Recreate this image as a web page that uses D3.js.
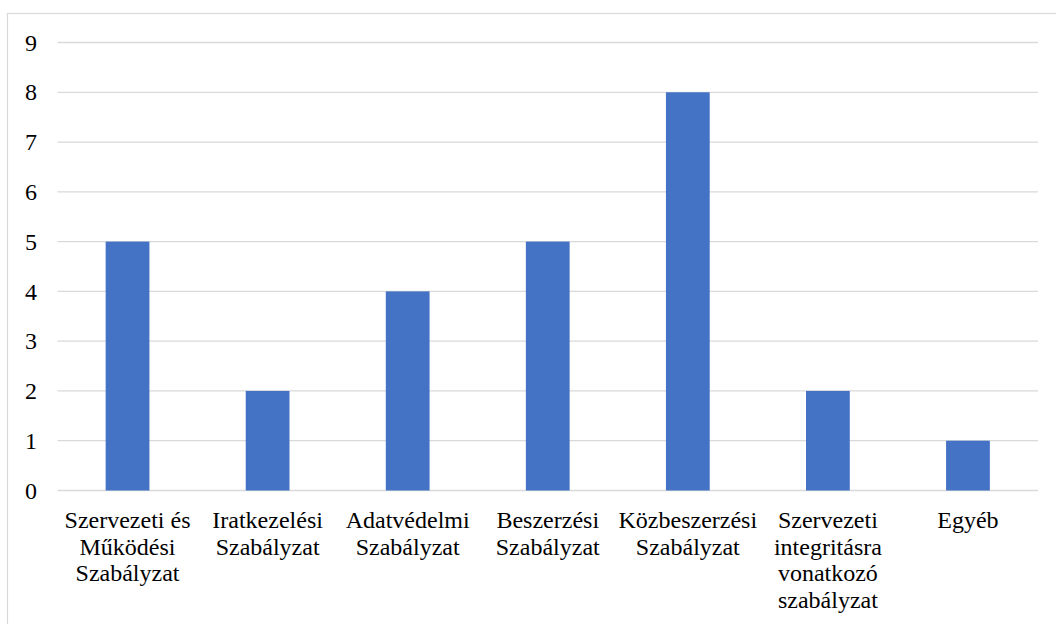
<!DOCTYPE html>
<html>
<head>
<meta charset="utf-8">
<script src="https://cdn.jsdelivr.net/npm/d3@7"></script>
</head>
<body style="margin:0;background:#fff">
<svg id="s" width="1056" height="624" style="display:block"></svg>
<script>
// Number of regulations by type
const categories = [
  "Szervezeti és Működési Szabályzat",
  "Iratkezelési Szabályzat",
  "Adatvédelmi Szabályzat",
  "Beszerzési Szabályzat",
  "Közbeszerzési Szabályzat",
  "Szervezeti integritásra vonatkozó szabályzat",
  "Egyéb"
];
const values = [5, 2, 4, 5, 8, 2, 1];
const yTicks = [0, 1, 2, 3, 4, 5, 6, 7, 8, 9];

const FONT = '"Times New Roman", Tinos, "Liberation Serif", serif';
const svg = d3.select("#s");
const W = 1056, H = 624;
const plot = { left: 57.5, right: 1038, top: 42.5, bottom: 490.5 };

// outer chart frame
svg.append("rect")
  .attr("x", 7.5).attr("y", 13.5)
  .attr("width", W + 10).attr("height", H + 10)
  .attr("fill", "#fff").attr("stroke", "#d9d9d9").attr("stroke-width", 1.2);

const x = d3.scaleBand()
  .domain(categories)
  .range([plot.left, plot.right])
  .paddingInner(0.6875)
  .paddingOuter(0.34375);

const y = d3.scaleLinear()
  .domain([0, 9])
  .range([plot.bottom, plot.top]);

// horizontal gridlines (including the baseline)
svg.append("g")
  .selectAll("line")
  .data(yTicks)
  .join("line")
  .attr("x1", plot.left).attr("x2", plot.right)
  .attr("y1", d => y(d)).attr("y2", d => y(d))
  .attr("stroke", "#d9d9d9").attr("stroke-width", 1.3);

// y axis labels, positioned by the linear scale
svg.append("g")
  .selectAll("text")
  .data(yTicks)
  .join("text")
  .attr("x", plot.left - 20.5)
  .attr("y", d => y(d))
  .attr("dy", "0.34em")
  .attr("text-anchor", "end")
  .attr("font-family", FONT)
  .attr("font-size", 24)
  .attr("fill", "#000")
  .text(d => d3.format("d")(d));

// bars
svg.append("g")
  .selectAll("rect")
  .data(values)
  .join("rect")
  .attr("x", (d, i) => x(categories[i]))
  .attr("width", x.bandwidth())
  .attr("y", d => y(d))
  .attr("height", d => y(0) - y(d))
  .attr("fill", "#4472C4");

// category labels, wrapped to the band step
const step = x.step();
categories.forEach(cat => {
  const cx = x(cat) + x.bandwidth() / 2;
  const words = cat.split(" ");
  const lines = [];
  let cur = [];
  const probe = svg.append("text").attr("font-family", FONT).attr("font-size", 24);
  words.forEach(w => {
    const trial = cur.concat([w]).join(" ");
    probe.text(trial);
    if (cur.length && probe.node().getComputedTextLength() > step - 2) {
      lines.push(cur.join(" "));
      cur = [w];
    } else {
      cur.push(w);
    }
  });
  lines.push(cur.join(" "));
  probe.remove();
  lines.forEach((ln, i) => {
    svg.append("text")
      .attr("x", cx)
      .attr("y", 528 + i * 26.7)
      .attr("text-anchor", "middle")
      .attr("fill", "#000")
      .attr("font-family", FONT)
      .attr("font-size", 24)
      .text(ln);
  });
});
</script>
</body>
</html>
